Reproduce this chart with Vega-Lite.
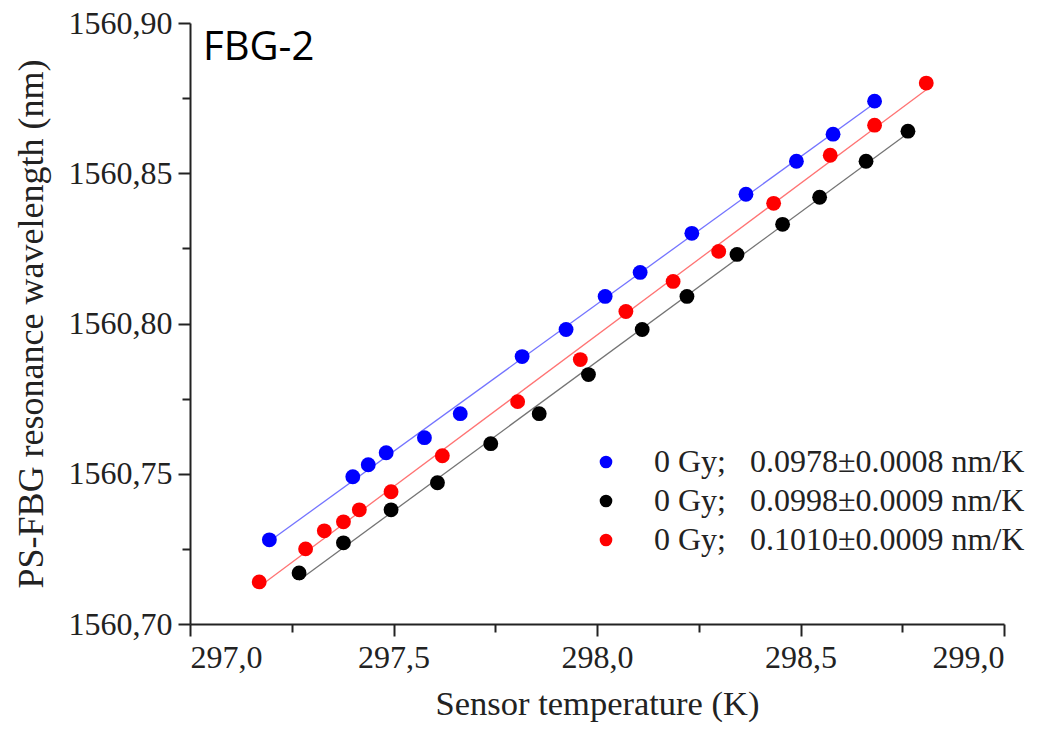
{
  "$schema": "https://vega.github.io/schema/vega-lite/v6.json",
  "autosize": {"type": "none"},
  "width": 814,
  "height": 601,
  "padding": {"left": 190, "top": 23, "right": 40, "bottom": 111},
  "background": "white",
  "config": {
    "view": {"stroke": null},
    "font": "Liberation Serif",
    "axis": {"grid": false, "domainColor": "#222", "domainWidth": 2, "tickColor": "#222", "tickWidth": 2, "labelColor": "#222", "titleColor": "#222", "labelFont": "Liberation Serif", "titleFont": "Liberation Serif", "titleFontWeight": "normal"},
    "legend": {"orient": "none", "legendX": 400, "legendY": 423, "title": null,
      "symbolType": "circle", "symbolSize": 160, "symbolStrokeWidth": 0, "symbolOpacity": 1, "labelFontSize": 32, "labelFont": "Liberation Serif", "labelColor": "#222",
      "labelOffset": 32, "rowPadding": 7, "labelLimit": 600}
  },
  "datasets": {
    "pts": [
      {"s": "A", "x": 297.195, "y": 1560.728},
      {"s": "A", "x": 297.400, "y": 1560.749},
      {"s": "A", "x": 297.438, "y": 1560.753},
      {"s": "A", "x": 297.482, "y": 1560.757},
      {"s": "A", "x": 297.576, "y": 1560.762},
      {"s": "A", "x": 297.664, "y": 1560.770},
      {"s": "A", "x": 297.816, "y": 1560.789},
      {"s": "A", "x": 297.924, "y": 1560.798},
      {"s": "A", "x": 298.020, "y": 1560.809},
      {"s": "A", "x": 298.106, "y": 1560.817},
      {"s": "A", "x": 298.233, "y": 1560.830},
      {"s": "A", "x": 298.366, "y": 1560.843},
      {"s": "A", "x": 298.490, "y": 1560.854},
      {"s": "A", "x": 298.580, "y": 1560.863},
      {"s": "A", "x": 298.682, "y": 1560.874},
      {"s": "B", "x": 297.268, "y": 1560.717},
      {"s": "B", "x": 297.377, "y": 1560.727},
      {"s": "B", "x": 297.494, "y": 1560.738},
      {"s": "B", "x": 297.608, "y": 1560.747},
      {"s": "B", "x": 297.739, "y": 1560.760},
      {"s": "B", "x": 297.858, "y": 1560.770},
      {"s": "B", "x": 297.979, "y": 1560.783},
      {"s": "B", "x": 298.111, "y": 1560.798},
      {"s": "B", "x": 298.221, "y": 1560.809},
      {"s": "B", "x": 298.344, "y": 1560.823},
      {"s": "B", "x": 298.456, "y": 1560.833},
      {"s": "B", "x": 298.547, "y": 1560.842},
      {"s": "B", "x": 298.661, "y": 1560.854},
      {"s": "B", "x": 298.764, "y": 1560.864},
      {"s": "C", "x": 297.170, "y": 1560.714},
      {"s": "C", "x": 297.284, "y": 1560.725},
      {"s": "C", "x": 297.330, "y": 1560.731},
      {"s": "C", "x": 297.377, "y": 1560.734},
      {"s": "C", "x": 297.416, "y": 1560.738},
      {"s": "C", "x": 297.494, "y": 1560.744},
      {"s": "C", "x": 297.620, "y": 1560.756},
      {"s": "C", "x": 297.805, "y": 1560.774},
      {"s": "C", "x": 297.959, "y": 1560.788},
      {"s": "C", "x": 298.071, "y": 1560.804},
      {"s": "C", "x": 298.187, "y": 1560.814},
      {"s": "C", "x": 298.299, "y": 1560.824},
      {"s": "C", "x": 298.434, "y": 1560.840},
      {"s": "C", "x": 298.573, "y": 1560.856},
      {"s": "C", "x": 298.682, "y": 1560.866},
      {"s": "C", "x": 298.809, "y": 1560.880}
    ],
    "label": [
      {"x": 297.032, "y": 1560.8877, "t": "FBG-2"}
    ]
  },
  "layer": [
    {
      "data": {"name": "pts"},
      "transform": [{"regression": "y", "on": "x", "groupby": ["s"], "method": "linear"}],
      "mark": {"type": "line", "strokeWidth": 1.3, "opacity": 0.55},
      "encoding": {
        "x": {"field": "x", "type": "quantitative", "scale": {"domain": [297, 299], "nice": false, "zero": false},
          "axis": {"orient": "bottom", "values": [297.25, 297.75, 298.25, 298.75], "tickSize": 8, "labels": false, "domain": false, "title": null}},
        "y": {"field": "y", "type": "quantitative", "scale": {"domain": [1560.7, 1560.9], "nice": false, "zero": false},
          "axis": {"orient": "left", "values": [1560.725, 1560.775, 1560.825, 1560.875], "tickSize": 8, "labels": false, "domain": false, "title": null}},
        "color": {"field": "s", "type": "nominal",
          "scale": {"domain": ["A", "B", "C"], "range": ["#0000ff", "#000000", "#ff0000"]},
          "legend": {"symbolType": "circle", "labelExpr": "datum.value == 'A' ? '0 Gy;\u00a0\u00a0\u00a00.0978±0.0008 nm/K' : datum.value == 'B' ? '0 Gy;\u00a0\u00a0\u00a00.0998±0.0009 nm/K' : '0 Gy;\u00a0\u00a0\u00a00.1010±0.0009 nm/K'"}}
      }
    },
    {
      "data": {"name": "pts"},
      "mark": {"type": "point", "filled": true, "shape": "circle", "size": 220, "opacity": 1},
      "encoding": {
        "x": {"field": "x", "type": "quantitative",
          "axis": {"orient": "bottom", "values": [297, 297.5, 298, 298.5, 299], "tickSize": 12, "labelPadding": 6, "labelFontSize": 32,
            "labelExpr": "replace(format(datum.value, '.1f'), '.', ',')",
            "title": "Sensor temperature (K)", "titleFontSize": 34.5, "titlePadding": 14}},
        "y": {"field": "y", "type": "quantitative",
          "axis": {"orient": "left", "values": [1560.7, 1560.75, 1560.8, 1560.85, 1560.9], "tickSize": 12, "labelPadding": 6, "labelFontSize": 32,
            "labelExpr": "replace(format(datum.value, '.2f'), '.', ',')",
            "title": "PS-FBG resonance wavelength (nm)", "titleFontSize": 36, "titlePadding": 18}},
        "color": {"field": "s", "type": "nominal",
          "scale": {"domain": ["A", "B", "C"], "range": ["#0000ff", "#000000", "#ff0000"]},
          "legend": {"symbolType": "circle", "labelExpr": "datum.value == 'A' ? '0 Gy;\u00a0\u00a0\u00a00.0978±0.0008 nm/K' : datum.value == 'B' ? '0 Gy;\u00a0\u00a0\u00a00.0998±0.0009 nm/K' : '0 Gy;\u00a0\u00a0\u00a00.1010±0.0009 nm/K'"}}
      }
    },
    {
      "data": {"name": "label"},
      "mark": {"type": "text", "font": "Open Sans", "fontSize": 40, "align": "left", "baseline": "alphabetic", "color": "#000"},
      "encoding": {
        "x": {"field": "x", "type": "quantitative", "axis": null},
        "y": {"field": "y", "type": "quantitative", "axis": null},
        "text": {"field": "t"}
      }
    }
  ],
  "resolve": {"axis": {"x": "independent", "y": "independent"}}
}
